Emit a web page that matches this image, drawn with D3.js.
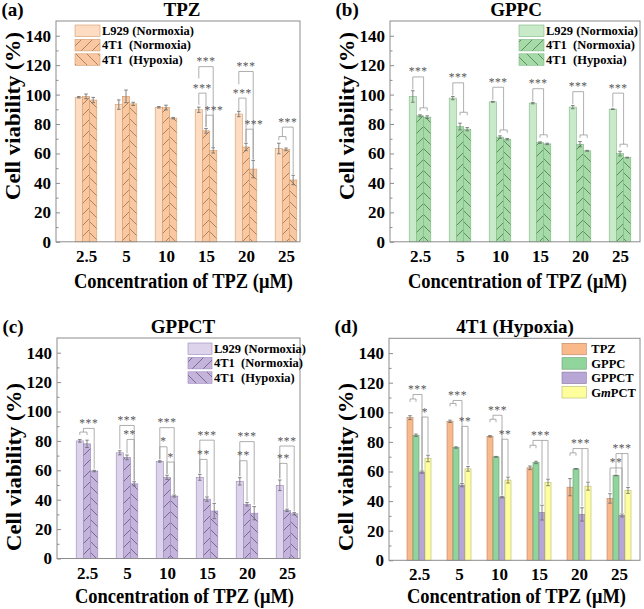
<!DOCTYPE html>
<html><head><meta charset="utf-8">
<script src="https://cdn.jsdelivr.net/npm/d3@7"></script>
<style>
body{margin:0;background:#fff}
svg{display:block}
text{font-family:'Liberation Serif','Times New Roman',serif;font-weight:bold;fill:#000}
</style>
</head><body><svg id="c" width="644" height="609"></svg>
<script>
// ---------- data ----------
const conc = ["2.5","5","10","15","20","25"];
const yTicks = [0,20,40,60,80,100,120,140];
const yMinor = [10,30,50,70,90,110,130];
const legend3 = ["L929 (Normoxia)","4T1  (Normoxia)","4T1  (Hypoxia)"];
const legendD = ["TPZ","GPPC","GPPCT","GmPCT"];
const panelTitles = ["TPZ","GPPC","GPPCT","4T1 (Hypoxia)"];
const panelLabels = ["(a)","(b)","(c)","(d)"];
const xTitle = "Concentration of TPZ (μM)";
const yTitle = "Cell viability (%)";

// (a) TPZ
const tpzL929 = [98.2, 93.2, 91.4, 89.7, 86.8, 63.4];
const tpzL929Err = [0.5, 3.2, 0.5, 1.8, 1.8, 3.6];
const tpzN = [98.8, 98.8, 91.2, 75.4, 64.4, 62.8];
const tpzNErr = [1.6, 4.3, 1.6, 1.6, 2.5, 0.9];
const tpzH = [96.3, 93.7, 84.0, 62.1, 49.4, 42.0];
const tpzHErr = [1.8, 1.1, 0.5, 1.8, 5.9, 3.2];
// (b) GPPC
const gppcL929 = [98.7, 97.6, 95.1, 94.2, 91.5, 90.1];
const gppcL929Err = [3.9, 1.1, 0.3, 0.5, 1.1, 0.2];
const gppcN = [85.6, 78.3, 71.1, 67.4, 66.3, 59.9];
const gppcNErr = [0.7, 2.3, 0.9, 0.5, 1.8, 1.6];
const gppcH = [84.7, 76.5, 69.7, 66.5, 61.8, 57.2];
const gppcHErr = [0.9, 1.1, 0.5, 0.5, 0.3, 0.3];
// (c) GPPCT
const gppctL929 = [80.0, 71.9, 66.0, 55.2, 52.5, 49.8];
const gppctL929Err = [0.9, 1.4, 0.5, 2.0, 2.5, 3.6];
const gppctN = [78.0, 68.8, 55.2, 40.4, 36.9, 32.8];
const gppctNErr = [2.5, 1.6, 1.4, 1.5, 1.2, 0.8];
const gppctH = [59.5, 50.8, 42.5, 32.3, 30.8, 30.4];
const gppctHErr = [0.5, 1.4, 0.7, 5.2, 4.5, 0.8];
// (d) 4T1 (Hypoxia)
const hypTPZ = [96.4, 93.9, 83.8, 62.5, 49.4, 41.8];
const hypTPZErr = [1.3, 0.8, 0.5, 1.2, 5.8, 3.2];
const hypGPPC = [84.5, 76.2, 69.9, 66.1, 61.8, 57.3];
const hypGPPCErr = [0.8, 0.5, 0.3, 0.8, 0.2, 0.2];
const hypGPPCT = [59.6, 50.8, 42.7, 32.2, 31.0, 30.3];
const hypGPPCTErr = [0.8, 1.1, 0.5, 5.0, 4.5, 1.0];
const hypGmPCT = [68.8, 61.8, 54.2, 52.6, 50.1, 47.2];
const hypGmPCTErr = [2.2, 1.6, 2.0, 2.2, 2.7, 2.0];

// significance brackets: [group, fromBar, toBar, topValue, leftLegEnd, rightLegEnd, label, labelShift, midBar, midLegEnd]
const bracketsA = [
  [3, 0, 2, 119, 111, 64, "***"],
  [3, 0, 1, 101, 93, 78, "***"],
  [3, 1, 2, 86, 78, 64, "***", 0.6],
  [4, 0, 2, 115.7, 107, 56, "***"],
  [4, 0, 1, 97.6, 89, 67.5, "***"],
  [4, 1, 2, 76.5, 67.5, 56, "***", 0.6],
  [5, 0, 1, 71.5, 69, 69, ""],
  [5, 0.5, 2, 77.9, 71.5, 46, "***"]
];
const bracketsB = [
  [0, 1, 2, 91, 89, 89, ""], [0, 0, 1.5, 112, 103.5, 91, "***"],
  [1, 1, 2, 88, 86, 86, ""], [1, 0, 1.5, 108, 99.5, 88, "***"],
  [2, 1, 2, 76, 74, 74, ""], [2, 0, 1.5, 105, 96.5, 76, "***"],
  [3, 1, 2, 72.7, 70.7, 70.7, ""], [3, 0, 1.5, 104, 95.5, 72.7, "***"],
  [4, 1, 2, 72.6, 70.6, 70.6, ""], [4, 0, 1.5, 102, 93.5, 72.6, "***"],
  [5, 1, 2, 66.3, 64.3, 64.3, ""], [5, 0, 1.5, 101, 91.5, 66.3, "***"]
];
const bracketsC = [
  [0, 0, 1, 86, 84, 84, ""],
  [0, 0.5, 2, 88.5, 86, 61, "***"],
  [1, 0, 2, 90.5, 74.5, 53, "***"],
  [1, 1, 2, 81, 71.5, 53, "**", -0.15],
  [2, 0, 2, 89, 67.5, 44, "***"],
  [2, 0, 1, 76, 67.5, 57.5, "*"],
  [2, 1, 2, 65.6, 57.5, 44, "*"],
  [3, 0, 2, 80.5, 58, 38.5, "***"],
  [3, 0, 1, 67.4, 58, 42.5, "**"],
  [4, 0, 2, 79.5, 56, 36.5, "***"],
  [4, 0, 1, 66.5, 56, 39, "**"],
  [5, 0, 2, 76.5, 54.5, 32, "***"],
  [5, 0, 1, 64.7, 54.5, 34.5, "**"]
];
const bracketsD = [
  [0, 0, 1, 109, 107, 107, ""],
  [0, 0.5, 2, 112, 109, 61, "***"],
  [0, 2, 3, 96.8, 61, 72, "*"],
  [1, 0, 1, 106, 104, 104, ""],
  [1, 0.5, 2, 108, 106, 52.5, "***"],
  [1, 2, 3, 90.5, 52.5, 64.5, "**"],
  [2, 0, 1, 95.3, 93.3, 93.3, ""],
  [2, 0.5, 2, 98, 95.3, 44, "***"],
  [2, 2, 3, 81.8, 44, 57, "**"],
  [3, 0, 1, 77.7, 75.7, 75.7, ""],
  [3, 0.5, 3, 81, 77.7, 55.5, "***", 0, 2, 38],
  [4, 0, 1, 72.6, 70.6, 70.6, ""],
  [4, 0.5, 3, 75.5, 72.6, 53.5, "***", 0, 2, 36.5],
  [5, 0, 2, 62.4, 46, 32, "**"],
  [5, 1, 3, 72.1, 58.5, 50, "***", 0, 2, 32]
];

// ---------- drawing ----------
const svg = d3.select("#c");
const defs = svg.append("defs");

function hatch(id, fill, line, dir) {
  const s = 11;
  const pat = defs.append("pattern").attr("id", id)
    .attr("patternUnits", "userSpaceOnUse").attr("width", s).attr("height", s);
  pat.append("rect").attr("width", s).attr("height", s).attr("fill", fill);
  const d = dir > 0
    ? `M0,${s}L${s},0M-1,1L1,-1M${s-1},${s+1}L${s+1},${s-1}`
    : `M0,0L${s},${s}M-1,${s-1}L1,${s+1}M${s-1},-1L${s+1},1`;
  pat.append("path").attr("d", d).attr("stroke", line).attr("stroke-width", 0.7);
  return `url(#${id})`;
}

const panels = [
  {L:56, R:300, T:21, B:241.8, vals:[tpzL929,tpzN,tpzH], errs:[tpzL929Err,tpzNErr,tpzHErr],
   names:legend3, fills:["#fddcc1","#f9c8a0","#f9c8a0"], edge:"#d39b6c", hatchLine:"#8a6448",
   hatchDir:[0,1,-1], bw:7.2, legX:19, legY:4, legW:25, legGap:2, ytY:116, xtY:46.5, brackets:bracketsA},
  {L:390, R:640, T:21, B:241.8, vals:[gppcL929,gppcN,gppcH], errs:[gppcL929Err,gppcNErr,gppcHErr],
   names:legend3, fills:["#c8eac8","#a6dba8","#a6dba8"], edge:"#7fb985", hatchLine:"#3f6a44",
   hatchDir:[0,1,-1], bw:7.2, legX:129, legY:4, legW:25, legGap:2, ytY:116, xtY:46.5, brackets:bracketsB},
  {L:57, R:300, T:338, B:558.5, vals:[gppctL929,gppctN,gppctH], errs:[gppctL929Err,gppctNErr,gppctHErr],
   names:legend3, fills:["#ddd3ea","#c4b4dc","#c4b4dc"], edge:"#9a88bc", hatchLine:"#5a4a72",
   hatchDir:[0,1,-1], bw:7.2, legX:131, legY:5, legW:24, legGap:2, ytY:467, xtY:44, brackets:bracketsC},
  {L:389, R:640, T:338.3, B:560.3, vals:[hypTPZ,hypGPPC,hypGPPCT,hypGmPCT],
   errs:[hypTPZErr,hypGPPCErr,hypGPPCTErr,hypGmPCTErr],
   names:legendD, fills:["#f9b98b","#90d59c","#b8a6d6","#fefe9c"], edge:null, hatchLine:null,
   hatchDir:[0,0,0,0], bw:6, legX:173, legY:5, legW:24.3, legGap:5, ytY:467, xtY:42.5, brackets:bracketsD}
];

panels.forEach((p, pi) => {
  const g = svg.append("g");
  const x = d3.scalePoint().domain(conc).range([p.L + 30, p.L + 230]);
  const y = d3.scaleLinear().domain([0, 150]).range([p.B, p.T]);
  const n = p.vals.length;
  const bx = (gi, pos) => x(conc[gi]) + (pos - (n - 1) / 2) * p.bw;
  const fillFor = si => p.hatchDir[si] ? hatch(`h${pi}_${si}`, p.fills[si], p.hatchLine, p.hatchDir[si]) : p.fills[si];
  const edgeFor = si => p.edge || d3.color(p.fills[si]).darker(0.9).formatHex();
  const fills = p.vals.map((_, si) => fillFor(si));

  // bars
  p.vals.forEach((arr, si) => {
    g.append("g").selectAll("rect").data(arr).join("rect")
      .attr("x", (d, i) => bx(i, si) - p.bw / 2)
      .attr("y", d => y(d))
      .attr("width", p.bw)
      .attr("height", d => y(0) - y(d))
      .attr("fill", fills[si])
      .attr("stroke", edgeFor(si)).attr("stroke-width", 0.6);
  });
  // error bars
  p.vals.forEach((arr, si) => {
    const eg = g.append("g").attr("stroke", "#6a6a6a").attr("stroke-width", 0.8).attr("fill", "none");
    eg.selectAll("path").data(arr).join("path")
      .attr("d", (d, i) => {
        const cx = bx(i, si), e = p.errs[si][i], h = 1.8;
        const y1 = y(d + e), y2 = y(d - e);
        return `M${cx},${y1}V${y2}M${cx-h},${y1}H${cx+h}M${cx-h},${y2}H${cx+h}`;
      });
  });
  // brackets
  const bg = g.append("g");
  p.brackets.forEach(b => {
    const [gi, p1, p2, yv, b1, b2, lab, dx, pm, bm] = b;
    const x1 = bx(gi, p1), x2 = bx(gi, p2), yy = y(yv);
    let d = `M${x1},${y(b1)}V${yy}H${x2}V${y(b2)}`;
    if (pm !== undefined) d += `M${bx(gi, pm)},${yy}V${y(bm)}`;
    bg.append("path").attr("d", d).attr("fill", "none").attr("stroke", "#9a9a9a").attr("stroke-width", 0.8);
    if (lab) bg.append("text").attr("x", (x1 + x2) / 2 + (dx || 0) * p.bw).attr("y", yy - 1.5)
      .attr("text-anchor", "middle").style("font-size", "11.5px").style("font-weight", "normal")
      .style("fill", "#555").style("letter-spacing", "0.6px").text(lab);
  });

  // frame
  g.append("rect").attr("x", p.L).attr("y", p.T).attr("width", p.R - p.L).attr("height", p.B - p.T)
    .attr("fill", "none").attr("stroke", "#8c8c8c").attr("stroke-width", 1);

  // y axis
  const ya = g.append("g").attr("transform", `translate(${p.L},0)`)
    .call(d3.axisLeft(y).tickValues(yTicks).tickSize(-4).tickPadding(5));
  ya.select(".domain").remove();
  ya.selectAll("line").attr("stroke", "#8c8c8c");
  ya.attr("font-family", null).attr("font-size", null);
  ya.selectAll("text").style("font-size", "17px").attr("fill", "#000");
  const ym = g.append("g").attr("transform", `translate(${p.L},0)`)
    .call(d3.axisLeft(y).tickValues(yMinor).tickSize(-2.5).tickFormat(""));
  ym.select(".domain").remove();
  ym.selectAll("line").attr("stroke", "#8c8c8c");

  // x axis
  const xa = g.append("g").attr("transform", `translate(0,${p.B})`)
    .call(d3.axisBottom(x).tickSize(0).tickPadding(8));
  xa.select(".domain").remove();
  xa.attr("font-family", null).attr("font-size", null);
  xa.selectAll("text").style("font-size", "17px").attr("fill", "#000");

  // axis titles
  g.append("text").attr("x", p.L + 127.5).attr("y", p.B + p.xtY).attr("text-anchor", "middle")
    .style("font-size", "20px").attr("textLength", 219).attr("lengthAdjust", "spacingAndGlyphs").text(xTitle);
  g.append("text").attr("transform", `translate(${p.L - 36},${p.ytY}) rotate(-90)`).attr("text-anchor", "middle")
    .style("font-size", "21px").attr("textLength", 168).attr("lengthAdjust", "spacingAndGlyphs").text(yTitle);

  // panel title and label
  g.append("text").attr("x", p.L + 126).attr("y", p.T - 5).attr("text-anchor", "middle")
    .style("font-size", "19px").text(panelTitles[pi]);
  g.append("text").attr("x", p.L - 54.5).attr("y", p.T - 5.5).style("font-size", "19px").text(panelLabels[pi]);

  // legend
  const lg = g.append("g");
  p.names.forEach((nm, si) => {
    const lx = p.L + p.legX, ly = p.T + p.legY + si * 14.4;
    lg.append("rect").attr("x", lx).attr("y", ly).attr("width", p.legW).attr("height", 11.5)
      .attr("fill", fills[si]).attr("stroke", edgeFor(si)).attr("stroke-width", 0.6);
    const t = lg.append("text").attr("x", lx + p.legW + p.legGap).attr("y", ly + 10)
      .style("font-size", "12.5px").style("white-space", "pre");
    if (nm === "GmPCT") {
      t.append("tspan").text("G");
      t.append("tspan").style("font-style", "italic").text("m");
      t.append("tspan").text("PCT");
    } else t.text(nm);
  });
});
</script>
</body></html>
